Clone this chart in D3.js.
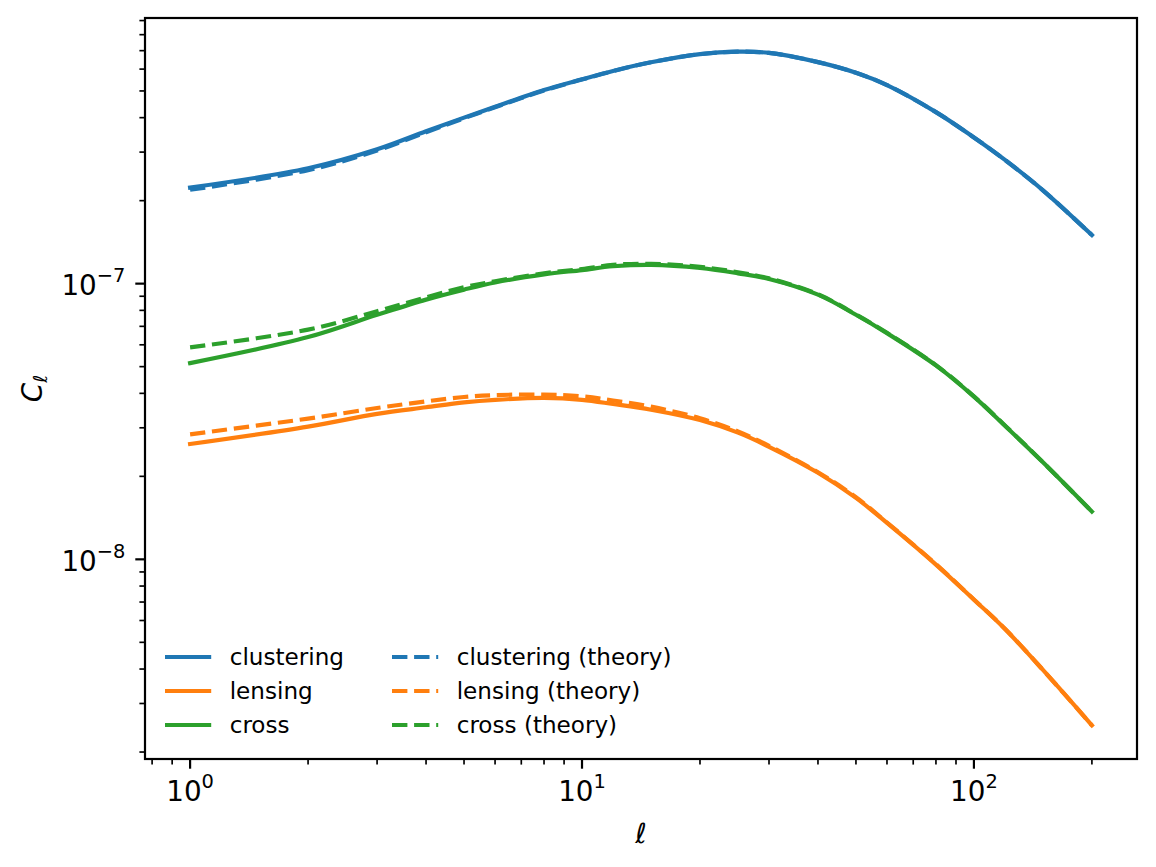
<!DOCTYPE html>
<html>
<head>
<meta charset="utf-8">
<script src="https://cdn.jsdelivr.net/npm/d3@7"></script>
<style>
  body { margin: 0; background: #fff; }
  svg { display: block; font-family: 'DejaVu Sans', sans-serif; }
</style>
</head>
<body>
<div id="chart"></div>
<script>
// multipoles
const ells = [1, 2, 3, 4, 5, 6, 8, 10, 12, 15, 20, 25, 30, 40, 50, 60, 80, 100, 120, 150, 200];

// measured spectra
const clustering = [2.23e-7, 2.62e-7, 3.07e-7, 3.57e-7, 4.0e-7, 4.38e-7, 5.04e-7, 5.51e-7, 5.91e-7, 6.35e-7, 6.8e-7,
  6.94e-7, 6.87e-7, 6.36e-7, 5.82e-7, 5.25e-7, 4.19e-7, 3.39e-7, 2.81e-7, 2.18e-7, 1.5e-7];
const lensing = [2.62e-8, 3.03e-8, 3.37e-8, 3.56e-8, 3.71e-8, 3.79e-8, 3.85e-8, 3.79e-8, 3.66e-8, 3.49e-8, 3.2e-8,
  2.88e-8, 2.56e-8, 2.06e-8, 1.67e-8, 1.355e-8, 9.57e-9, 7.14e-9, 5.59e-9, 3.97e-9, 2.5e-9];
const cross = [5.15e-8, 6.4e-8, 7.71e-8, 8.75e-8, 9.51e-8, 1.01e-7, 1.08e-7, 1.12e-7, 1.156e-7, 1.17e-7, 1.14e-7,
  1.09e-7, 1.04e-7, 9.12e-8, 7.71e-8, 6.61e-8, 5.05e-8, 3.89e-8, 3.05e-8, 2.25e-8, 1.49e-8];

// theory spectra
const clusteringTheory = [2.19e-7, 2.58e-7, 3.04e-7, 3.54e-7, 3.98e-7, 4.36e-7, 5.02e-7, 5.5e-7, 5.9e-7, 6.35e-7, 6.8e-7,
  6.94e-7, 6.87e-7, 6.36e-7, 5.82e-7, 5.25e-7, 4.19e-7, 3.39e-7, 2.81e-7, 2.18e-7, 1.5e-7];
const lensingTheory = [2.84e-8, 3.24e-8, 3.54e-8, 3.74e-8, 3.88e-8, 3.94e-8, 3.96e-8, 3.9e-8, 3.77e-8, 3.58e-8, 3.25e-8,
  2.91e-8, 2.58e-8, 2.07e-8, 1.68e-8, 1.36e-8, 9.6e-9, 7.15e-9, 5.6e-9, 3.97e-9, 2.5e-9];
const crossTheory = [5.87e-8, 6.81e-8, 7.94e-8, 8.92e-8, 9.7e-8, 1.02e-7, 1.09e-7, 1.13e-7, 1.17e-7, 1.18e-7, 1.15e-7,
  1.1e-7, 1.045e-7, 9.15e-8, 7.73e-8, 6.63e-8, 5.06e-8, 3.9e-8, 3.06e-8, 2.25e-8, 1.49e-8];

const seriesNames = ['clustering', 'lensing', 'cross'];
const colors = ['#1f77b4', '#ff7f0e', '#2ca02c'];

const W = 1156;
const H = 867;
const margin = { l: 145, r: 19, t: 18, b: 108 };
const width = W - margin.l - margin.r;
const height = H - margin.t - margin.b;

const measured = [clustering, lensing, cross];
const theory = [clusteringTheory, lensingTheory, crossTheory];

// log-space padding like matplotlib (5%)
const pad = (lo, hi) => {
  const a = Math.log10(lo);
  const b = Math.log10(hi);
  const m = (b - a) * 0.05;
  return [10 ** (a - m), 10 ** (b + m)];
};
const allVals = measured.concat(theory).flat();

const x = d3.scaleLog(pad(d3.min(ells), d3.max(ells)), [0, width]);
const y = d3.scaleLog(pad(d3.min(allVals), d3.max(allVals)), [height, 0]);

const svg = d3
  .select('#chart')
  .append('svg')
  .attr('width', W)
  .attr('height', H);

svg.append('rect').attr('width', W).attr('height', H).attr('fill', '#fff');

const g = svg.append('g').attr('transform', `translate(${margin.l}, ${margin.t})`);

g.append('clipPath').attr('id', 'clip').append('rect').attr('width', width).attr('height', height);

const line = d3
  .line()
  .x((d) => x(d[0]))
  .y((d) => y(d[1]))
  .curve(d3.curveCatmullRom.alpha(0.5));

const plot = g.append('g').attr('clip-path', 'url(#clip)');

measured.forEach((vals, i) => {
  plot
    .append('path')
    .datum(ells.map((l, j) => [l, vals[j]]))
    .attr('fill', 'none')
    .attr('stroke', colors[i])
    .attr('stroke-width', 4.17)
    .attr('stroke-linecap', 'square')
    .attr('d', line);
});

theory.forEach((vals, i) => {
  plot
    .append('path')
    .datum(ells.map((l, j) => [l, vals[j]]))
    .attr('fill', 'none')
    .attr('stroke', colors[i])
    .attr('stroke-width', 4.17)
    .attr('stroke-dasharray', '15.4,6.7')
    .attr('d', line);
});

// ticks
const majorLen = 9.7;
const minorLen = 5.6;
const tickFont = 27.8;

const xDom = x.domain();
const yDom = y.domain();
const inDom = (v, dom) => v >= dom[0] * 0.9999 && v <= dom[1] * 1.0001;

const minorVals = (dom) => {
  const out = [];
  for (let e = Math.floor(Math.log10(dom[0])); e <= Math.ceil(Math.log10(dom[1])); e++) {
    for (let k = 2; k <= 9; k++) {
      const v = k * 10 ** e;
      if (inDom(v, dom)) out.push(v);
    }
  }
  return out;
};
const majorVals = (dom) => {
  const out = [];
  for (let e = Math.floor(Math.log10(dom[0])); e <= Math.ceil(Math.log10(dom[1])); e++) {
    if (inDom(10 ** e, dom)) out.push(e);
  }
  return out;
};

const axisG = g.append('g').attr('stroke', '#000');

// x minor + major
minorVals(xDom).forEach((v) => {
  axisG.append('line').attr('x1', x(v)).attr('x2', x(v)).attr('y1', height).attr('y2', height + minorLen)
    .attr('stroke-width', 1.67);
});
majorVals(xDom).forEach((e) => {
  const px = x(10 ** e);
  axisG.append('line').attr('x1', px).attr('x2', px).attr('y1', height).attr('y2', height + majorLen)
    .attr('stroke-width', 2.2);
  const t = g.append('text')
    .attr('x', px)
    .attr('y', height + 42)
    .attr('text-anchor', 'middle')
    .attr('font-size', tickFont);
  t.append('tspan').text('10');
  t.append('tspan').attr('dy', -13).attr('font-size', tickFont * 0.7).text(String(e).replace('-', '\u2212'));
});

// y minor + major
minorVals(yDom).forEach((v) => {
  axisG.append('line').attr('x1', 0).attr('x2', -minorLen).attr('y1', y(v)).attr('y2', y(v))
    .attr('stroke-width', 1.67);
});
majorVals(yDom).forEach((e) => {
  const py = y(10 ** e);
  axisG.append('line').attr('x1', 0).attr('x2', -majorLen).attr('y1', py).attr('y2', py)
    .attr('stroke-width', 2.2);
  const t = g.append('text')
    .attr('x', -19.6)
    .attr('y', py + 11.5)
    .attr('text-anchor', 'end')
    .attr('font-size', tickFont);
  t.append('tspan').text('10');
  t.append('tspan').attr('dy', -13).attr('font-size', tickFont * 0.7).text(String(e).replace('-', '\u2212'));
});

// frame
g.append('rect')
  .attr('width', width)
  .attr('height', height)
  .attr('fill', 'none')
  .attr('stroke', '#000')
  .attr('stroke-width', 2.2);

// axis names
g.append('text')
  .attr('x', width / 2)
  .attr('y', height + 84)
  .attr('text-anchor', 'middle')
  .attr('font-size', tickFont)
  .attr('font-style', 'italic')
  .text('\u2113');

const yl = g.append('text')
  .attr('transform', `translate(${42 - margin.l}, ${height / 2}) rotate(-90)`)
  .attr('text-anchor', 'middle')
  .attr('font-size', tickFont)
  .attr('font-style', 'italic');
yl.append('tspan').text('C');
yl.append('tspan').attr('dy', 5).attr('font-size', tickFont * 0.7).text('\u2113');

// legend, two columns, no frame
const legFont = 23.1;
const rowY = [657, 691, 725].map((v) => v - margin.t);
const cols = [
  { x0: 165 - margin.l, names: seriesNames, dash: null },
  { x0: 392 - margin.l, names: seriesNames.map((n) => `${n} (theory)`), dash: '15.4,6.7' }
];
const legend = g.append('g');
cols.forEach((c) => {
  c.names.forEach((name, i) => {
    const ln = legend.append('line')
      .attr('x1', c.x0)
      .attr('x2', c.x0 + 46.2)
      .attr('y1', rowY[i])
      .attr('y2', rowY[i])
      .attr('stroke', colors[i])
      .attr('stroke-width', 4.17);
    if (c.dash) ln.attr('stroke-dasharray', c.dash);
    legend.append('text')
      .attr('x', c.x0 + 46.2 + 18.5)
      .attr('y', rowY[i] + 8)
      .attr('font-size', legFont)
      .text(name);
  });
});
</script>
</body>
</html>
